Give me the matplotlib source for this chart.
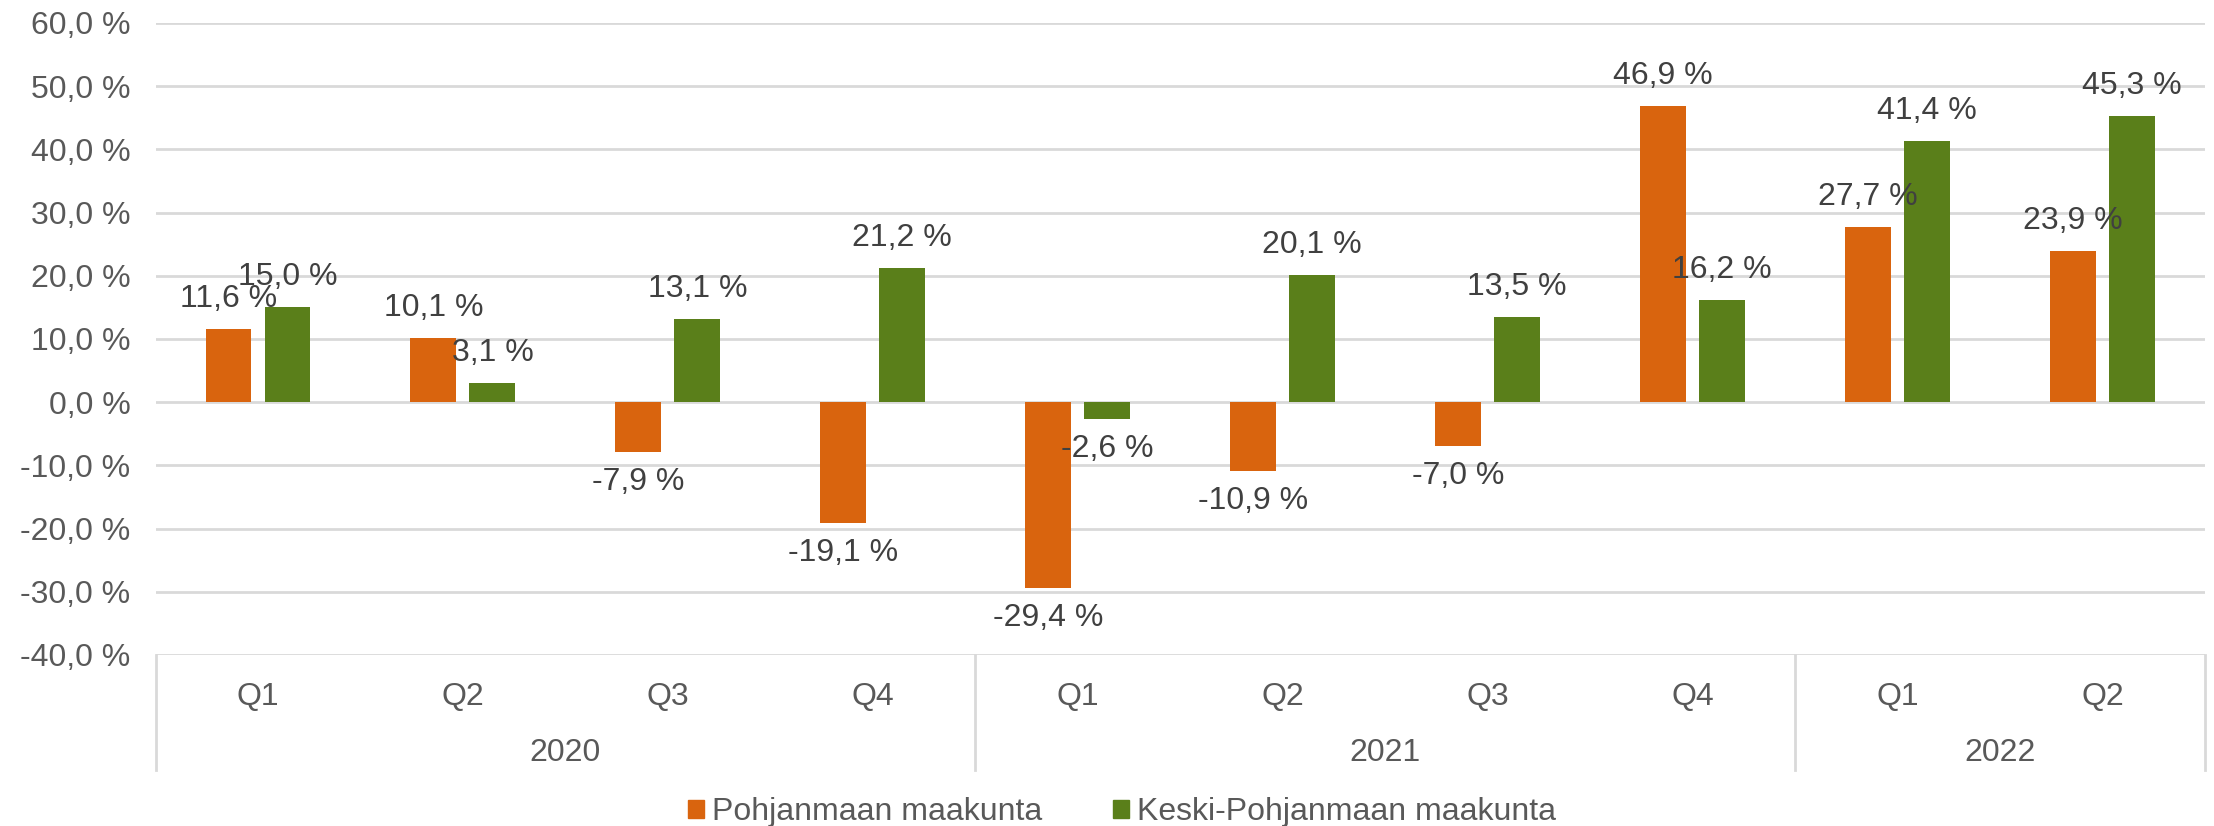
import matplotlib.pyplot as plt
from matplotlib.patches import Patch
import numpy as np

# Data
quarters = ['Q1', 'Q2', 'Q3', 'Q4', 'Q1', 'Q2', 'Q3', 'Q4', 'Q1', 'Q2']
years = ['2020', '2021', '2022']
year_sizes = [4, 4, 2]
pohjanmaa = [11.6, 10.1, -7.9, -19.1, -29.4, -10.9, -7.0, 46.9, 27.7, 23.9]
keski_pohjanmaa = [15.0, 3.1, 13.1, 21.2, -2.6, 20.1, 13.5, 16.2, 41.4, 45.3]
series_names = ['Pohjanmaan maakunta', 'Keski-Pohjanmaan maakunta']
yticks = [-40, -30, -20, -10, 0, 10, 20, 30, 40, 50, 60]

plt.rcParams['font.family'] = ['Liberation Sans', 'DejaVu Sans']
W, H = 2214, 826
fig = plt.figure(figsize=(W / 100, H / 100), dpi=100)

left, right, top, bottom = 155.5, 2205, 23, 655
ax = fig.add_axes([left / W, 1 - bottom / H, (right - left) / W, (bottom - top) / H])

orange = '#D9640E'
green = '#5A7F1A'
grid_c = '#D9D9D9'
label_c = '#404040'
tick_c = '#595959'
fs = 23

x = np.arange(len(quarters))
w = 0.224
off = 0.144
b1 = ax.bar(x - off, pohjanmaa, w, color=orange, zorder=3)
b2 = ax.bar(x + off, keski_pohjanmaa, w, color=green, zorder=3)

ax.set_xlim(-0.5, len(quarters) - 0.5)
ax.set_ylim(-40, 60)
ax.set_yticks(yticks)
ax.set_yticklabels([f'{v:.1f} %'.replace('.', ',') for v in yticks], fontsize=fs, color=tick_c)
ax.tick_params(axis='y', length=0, pad=18)
ax.set_xticks([])
ax.grid(axis='y', color=grid_c, linewidth=2, zorder=0)
for s in ax.spines.values():
    s.set_visible(False)

# data labels
for bars, vals in [(b1, pohjanmaa), (b2, keski_pohjanmaa)]:
    for bar, v in zip(bars, vals):
        cx = bar.get_x() + bar.get_width() / 2
        dy = 30 if v >= 0 else -30
        ax.annotate(f'{v:.1f} %'.replace('.', ','), (cx, v), xytext=(0, dy),
                    textcoords='offset pixels', ha='center', va='center',
                    fontsize=fs, color=label_c, zorder=4)

# multi-level category axis
trans = ax.get_xaxis_transform()
ax_h = bottom - top
q_y = -(697 - bottom) / ax_h
yr_y = -(753 - bottom) / ax_h
line_end = -(770 - bottom) / ax_h
for i, q in enumerate(quarters):
    ax.text(i, q_y, q, transform=trans, ha='center', va='center', fontsize=fs, color=tick_c)

bounds = np.cumsum([0] + year_sizes) - 0.5
for xb in bounds:
    ax.plot([xb, xb], [0, line_end], transform=trans, color=grid_c, linewidth=2, clip_on=False)
for yr, a, b in zip(years, bounds[:-1], bounds[1:]):
    ax.text((a + b) / 2, yr_y, yr, transform=trans, ha='center', va='center', fontsize=fs, color=tick_c)

handles = [Patch(color=orange), Patch(color=green)]
fig.legend(handles, series_names, loc='center', bbox_to_anchor=(1122 / W, 1 - 812 / H),
           ncol=2, frameon=False, fontsize=fs, labelcolor=tick_c,
           handlelength=0.5, handleheight=0.5, handletextpad=0.25, columnspacing=2.2)

fig.savefig('out.png', dpi=100)
